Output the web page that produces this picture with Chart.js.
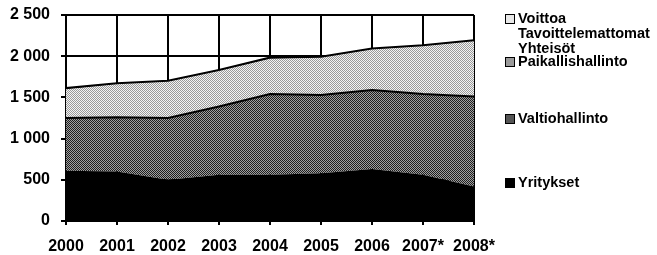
<!DOCTYPE html>
<html>
<head>
<meta charset="utf-8">
<script src="https://cdn.jsdelivr.net/npm/chart.js@4/dist/chart.umd.min.js"></script>
<style>
    html, body { margin: 0; padding: 0; background: #fff; }
    #wrap { position: relative; width: 657px; height: 255px; }
    #legend { position: absolute; left: 0; top: 0; font-family: "Liberation Sans", Arial, sans-serif;
              font-weight: bold; font-size: 14.5px; color: #000; line-height: 15px; }
    .item { position: absolute; left: 505px; white-space: nowrap; }
    .box { position: absolute; left: 0; width: 8px; height: 8px; border: 1px solid #000; }
    .txt { position: absolute; left: 13px; }
</style>
</head>
<body>
<div id="wrap">
    <canvas id="areaChart" width="657" height="255"></canvas>
    <div id="legend">
        <div class="item" style="top:11px"><span class="box" style="top:3px;background:#e8e8e8"></span><span class="txt">Voittoa<br>Tavoittelemattomat<br>Yhteisöt</span></div>
        <div class="item" style="top:54px"><span class="box" style="top:3px;background:#9a9a9a"></span><span class="txt">Paikallishallinto</span></div>
        <div class="item" style="top:111px"><span class="box" style="top:3px;background:#555"></span><span class="txt">Valtiohallinto</span></div>
        <div class="item" style="top:175px"><span class="box" style="top:3px;background:#000"></span><span class="txt">Yritykset</span></div>
    </div>
</div>
<script>
"use strict";

// Data
const years = ["2000", "2001", "2002", "2003", "2004", "2005", "2006", "2007*", "2008*"];
const yritykset = [610, 600, 500, 560, 560, 580, 630, 560, 420];
const valtiohallinto = [640, 660, 750, 830, 980, 950, 960, 980, 1090];
const paikallishallinto = [350, 400, 440, 430, 430, 450, 490, 580, 670];
const voittoa = [10, 10, 10, 10, 10, 10, 10, 10, 10];
const yTicks = [0, 500, 1000, 1500, 2000, 2500];

// Small dithered patterns like the scanned fills
function makePattern(c1, c2) {
    const p = document.createElement('canvas');
    p.width = 2;
    p.height = 2;
    const g = p.getContext('2d');
    g.fillStyle = c1;
    g.fillRect(0, 0, 2, 2);
    g.fillStyle = c2;
    g.fillRect(0, 0, 1, 1);
    g.fillRect(1, 1, 1, 1);
    return g.createPattern(p, 'repeat');
}

const ctx = document.getElementById('areaChart').getContext('2d');
const lightFill = makePattern('#f4f4f4', '#999');
const darkFill = makePattern('#a0a0a0', '#1e1e1e');

const fontTick = { family: '"Liberation Sans", Arial, sans-serif', weight: 'bold', size: 16 };

new Chart(ctx, {
    type: 'line',
    data: {
        labels: years,
        datasets: [
            {
                label: 'Yritykset',
                data: yritykset,
                backgroundColor: '#000',
                borderColor: '#000',
                borderWidth: 0,
                fill: 'origin'
            },
            {
                label: 'Valtiohallinto',
                data: valtiohallinto,
                backgroundColor: darkFill,
                borderColor: '#000',
                borderWidth: 2,
                fill: '-1'
            },
            {
                label: 'Paikallishallinto',
                data: paikallishallinto,
                backgroundColor: lightFill,
                borderColor: '#000',
                borderWidth: 0,
                fill: '-1'
            },
            {
                label: 'Voittoa Tavoittelemattomat Yhteisöt',
                data: voittoa,
                backgroundColor: '#000',
                borderColor: '#000',
                borderWidth: 2.5,
                fill: '-1'
            }
        ]
    },
    options: {
        responsive: false,
        animation: false,
        events: [],
        elements: {
            line: { tension: 0 },
            point: { radius: 0 }
        },
        layout: {
            padding: { left: 0, right: 183, top: 15, bottom: 0 }
        },
        plugins: {
            legend: { display: false },
            tooltip: { enabled: false }
        },
        scales: {
            x: {
                offset: false,
                grid: { color: '#000', lineWidth: 2, tickLength: 4 },
                border: { color: '#000', width: 2 },
                ticks: { color: '#000', font: fontTick, padding: 12, maxRotation: 0, autoSkip: false },
                afterFit: function(scale) { scale.height = 34; }
            },
            y: {
                stacked: true,
                min: 0,
                max: 2500,
                afterBuildTicks: function(scale) {
                    scale.ticks = yTicks.map(v => ({ value: v }));
                },
                grid: { color: '#000', lineWidth: 2, tickLength: 5 },
                border: { color: '#000', width: 2 },
                ticks: {
                    color: '#000',
                    font: fontTick,
                    padding: 11,
                    callback: function(value) {
                        return String(value).replace(/\B(?=(\d{3})+(?!\d))/g, ' ');
                    }
                },
                afterFit: function(scale) {
                    scale.width = 66;
                    scale.paddingTop = 0;
                    scale.paddingBottom = 0;
                }
            }
        }
    }
});
</script>
</body>
</html>
